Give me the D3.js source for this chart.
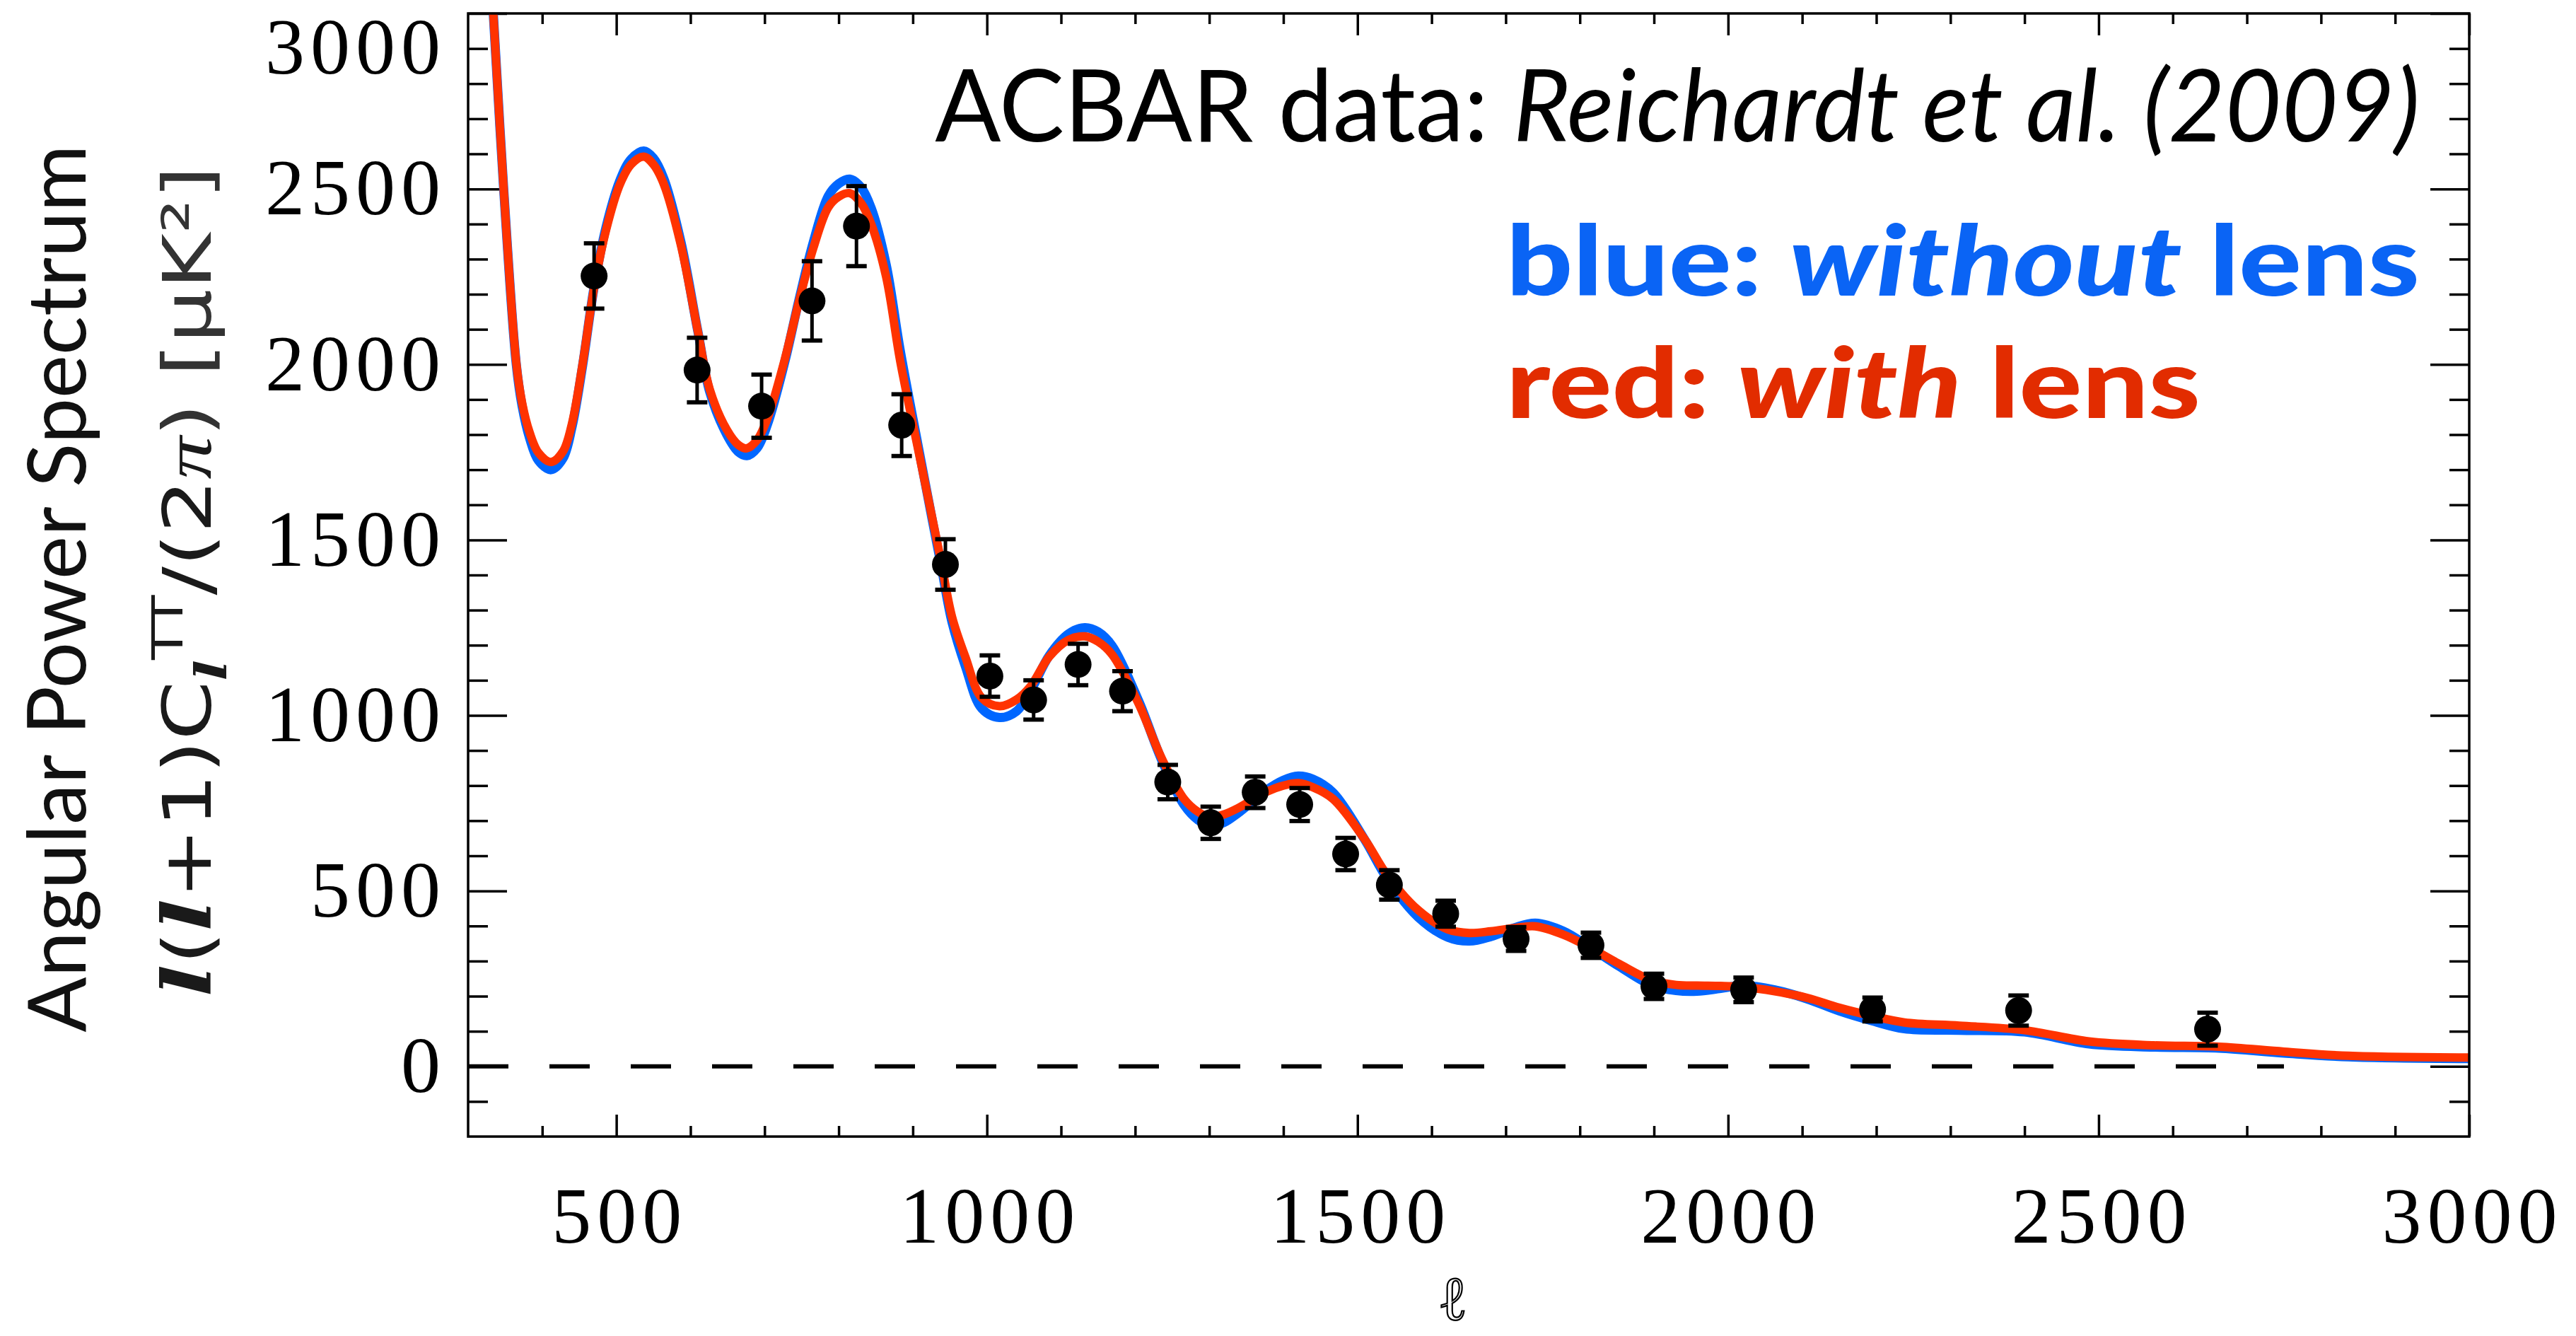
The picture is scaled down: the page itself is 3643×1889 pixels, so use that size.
<!DOCTYPE html>
<html>
<head>
<meta charset="utf-8">
<script src="https://cdn.jsdelivr.net/npm/d3@7"></script>
<style>
  body { margin: 0; background: #fff; }
  svg { display: block; }
</style>
</head>
<body>
<svg id="chart"></svg>
<script>
var width = 3643, height = 1889;

// model spectra, l(l+1)Cl/2pi in uK^2
var ellModel   = [320, 334, 348, 365, 373, 383, 395, 412, 428, 440, 454, 470, 486, 505, 520, 537, 550, 564, 587, 610,
                  626, 649, 665, 676, 690, 704, 727, 746, 766, 786, 800, 815, 830, 844, 864, 883, 907, 926, 938, 953,
                  971, 993, 1017, 1040, 1059, 1084, 1110, 1132, 1150, 1169, 1205, 1236, 1266, 1285, 1302, 1320, 1339, 1376, 1400, 1420,
                  1440, 1467, 1510, 1540, 1582, 1622, 1651, 1680, 1712, 1740, 1778, 1813, 1853, 1896, 1930, 1958, 1990, 2020, 2063, 2107,
                  2150, 2194, 2238, 2312, 2400, 2487, 2574, 2662, 2750, 2837, 3000];
var clLensed   = [3450, 3000, 2500, 2004, 1889, 1806, 1748, 1722, 1752, 1830, 1995, 2218, 2382, 2514, 2570, 2592, 2570, 2514, 2341, 2094,
                  1929, 1814, 1770, 1761, 1785, 1847, 2012, 2176, 2333, 2448, 2478, 2488, 2460, 2399, 2250, 2010, 1760, 1565, 1440, 1280,
                  1166, 1050, 1026, 1045, 1083, 1167, 1215, 1225, 1210, 1173, 1032, 877, 762, 725, 710, 718, 736, 781, 800, 807,
                  795, 762, 646, 545, 445, 390, 380, 385, 394, 399, 375, 339, 292, 246, 232, 230, 229, 226, 214, 195,
                  167, 144, 125, 116, 103, 71, 60, 56, 42, 30, 25];
var clUnlensed = [3450, 3000, 2500, 2000, 1880, 1790, 1726, 1700, 1732, 1820, 1990, 2220, 2390, 2525, 2585, 2608, 2588, 2530, 2350, 2094,
                  1922, 1800, 1750, 1740, 1762, 1830, 2005, 2180, 2350, 2480, 2515, 2528, 2505, 2445, 2285, 2040, 1770, 1560, 1430, 1265,
                  1140, 1020, 994, 1012, 1070, 1170, 1232, 1250, 1238, 1198, 1040, 872, 745, 702, 685, 695, 722, 785, 815, 827,
                  818, 780, 645, 535, 425, 368, 357, 370, 395, 408, 385, 340, 285, 232, 216, 214, 222, 230, 218, 192,
                  158, 130, 107, 103, 98, 64, 55, 52, 38, 27, 22];

// ACBAR band powers
var ellData = [470, 609, 696, 764, 824, 885, 944, 1004, 1063, 1123, 1183, 1244, 1302, 1362, 1422, 1484, 1543, 1619, 1714, 1815, 1900, 2021, 2195, 2392, 2647];
var clData  = [2252, 1984, 1881, 2181, 2394, 1827, 1430, 1112, 1044, 1145, 1069, 810, 694, 781, 746, 605, 517, 435, 363, 345, 228, 218, 162, 159, 106];
var clErr   = [93, 92, 90, 113, 114, 88, 72, 59, 56, 59, 57, 49, 46, 45, 47, 46, 42, 37, 34, 36, 36, 35, 34, 43, 47];

var xTicks = [500, 1000, 1500, 2000, 2500, 3000];
var yTicks = [0, 500, 1000, 1500, 2000, 2500, 3000];
var zeroLine = [300, 2750];

var plot = {left: 662, right: 3492, top: 19, bottom: 1607};

var x = d3.scaleLinear().domain([300, 3000]).range([plot.left, plot.right]);
var y = d3.scaleLinear().domain([-200, 3000]).range([plot.bottom, plot.top]);

var svg = d3.select('#chart')
            .attr('width', width)
            .attr('height', height);

svg.append('rect')
    .attr('width', width)
    .attr('height', height)
    .attr('fill', '#fff');

svg.append('clipPath')
    .attr('id', 'clip')
  .append('rect')
    .attr('x', x(300))
    .attr('y', y(3000))
    .attr('width', x(3000) - x(300))
    .attr('height', y(-200) - y(3000));

var xMinor = d3.range(400, 3000, 100).filter(d => d % 500 !== 0);
var yMinor = d3.range(-100, 3000, 100).filter(d => d % 500 !== 0);
var fmt = d3.format('d');

function tickStyle(g){
    g.select('.domain').remove();
    g.selectAll('.tick line').attr('stroke', '#000').attr('stroke-width', 3.5);
}

function labelStyle(g){
    g.selectAll('.tick text')
        .attr('font-family', '"Liberation Serif", serif')
        .attr('font-size', 112)
        .attr('letter-spacing', 8)
        .attr('fill', '#000');
}

// bottom + top
svg.append('g')
    .attr('transform', `translate(0,${plot.bottom})`)
    .call(d3.axisBottom(x).tickValues(xTicks).tickFormat(fmt).tickSizeInner(-31).tickSizeOuter(0).tickPadding(70))
    .call(tickStyle)
    .call(labelStyle)
    .selectAll('.tick text').attr('dx', 4);

svg.append('g')
    .attr('transform', `translate(0,${plot.bottom})`)
    .call(d3.axisBottom(x).tickValues(xMinor).tickSizeInner(-15).tickSizeOuter(0).tickFormat(''))
    .call(tickStyle);

svg.append('g')
    .attr('transform', `translate(0,${plot.top})`)
    .call(d3.axisTop(x).tickValues(xTicks).tickSizeInner(-31).tickSizeOuter(0).tickFormat(''))
    .call(tickStyle);

svg.append('g')
    .attr('transform', `translate(0,${plot.top})`)
    .call(d3.axisTop(x).tickValues(xMinor).tickSizeInner(-15).tickSizeOuter(0).tickFormat(''))
    .call(tickStyle);

// left + right
svg.append('g')
    .attr('transform', `translate(${plot.left},0)`)
    .call(d3.axisLeft(y).tickValues(yTicks).tickFormat(fmt).tickSizeInner(-55).tickSizeOuter(0).tickPadding(31))
    .call(tickStyle)
    .call(labelStyle)
    .selectAll('.tick text')
        .filter(d => d === 3000)
        .attr('y', 49);

svg.append('g')
    .attr('transform', `translate(${plot.left},0)`)
    .call(d3.axisLeft(y).tickValues(yMinor).tickSizeInner(-28).tickSizeOuter(0).tickFormat(''))
    .call(tickStyle);

svg.append('g')
    .attr('transform', `translate(${plot.right},0)`)
    .call(d3.axisRight(y).tickValues(yTicks).tickSizeInner(-55).tickSizeOuter(0).tickFormat(''))
    .call(tickStyle);

svg.append('g')
    .attr('transform', `translate(${plot.right},0)`)
    .call(d3.axisRight(y).tickValues(yMinor).tickSizeInner(-28).tickSizeOuter(0).tickFormat(''))
    .call(tickStyle);

// zero line
svg.append('line')
    .attr('x1', x(zeroLine[0]))
    .attr('x2', x(zeroLine[1]))
    .attr('y1', y(0))
    .attr('y2', y(0))
    .attr('stroke', '#000')
    .attr('stroke-width', 6)
    .attr('stroke-dasharray', '57 58');

// model curves
var unlensed = ellModel.map((l, i) => ({l: l, cl: clUnlensed[i]}));
var lensed = ellModel.map((l, i) => ({l: l, cl: clLensed[i]}));

var line = d3.line()
            .x(d => x(d.l))
            .y(d => y(d.cl))
            .curve(d3.curveCatmullRom.alpha(0.5));

var curves = svg.append('g').attr('clip-path', 'url(#clip)');

curves.append('path')
    .attr('d', line(unlensed))
    .attr('fill', 'none')
    .attr('stroke', '#0066ff')
    .attr('stroke-width', 13)
    .attr('stroke-linejoin', 'round');

curves.append('path')
    .attr('d', line(lensed))
    .attr('fill', 'none')
    .attr('stroke', '#ff3300')
    .attr('stroke-width', 12)
    .attr('stroke-linejoin', 'round');

// data points
var points = ellData.map((l, i) => ({l: l, cl: clData[i], err: clErr[i]}));

var pts = svg.append('g')
            .selectAll('.pt')
            .data(points)
            .enter()
            .append('g')
                .classed('pt', true);

pts.append('line')
    .attr('x1', d => x(d.l))
    .attr('x2', d => x(d.l))
    .attr('y1', d => y(d.cl + d.err))
    .attr('y2', d => y(d.cl - d.err))
    .attr('stroke', '#000')
    .attr('stroke-width', 5);

[1, -1].forEach(function(s){
    pts.append('line')
        .attr('x1', d => x(d.l) - 14.5)
        .attr('x2', d => x(d.l) + 14.5)
        .attr('y1', d => y(d.cl + s * d.err))
        .attr('y2', d => y(d.cl + s * d.err))
        .attr('stroke', '#000')
        .attr('stroke-width', 6);
});

pts.append('circle')
    .attr('cx', d => x(d.l))
    .attr('cy', d => y(d.cl))
    .attr('r', 19)
    .attr('fill', '#000');

// frame
svg.append('rect')
    .attr('x', x(300))
    .attr('y', y(3000))
    .attr('width', x(3000) - x(300))
    .attr('height', y(-200) - y(3000))
    .attr('fill', 'none')
    .attr('stroke', '#000')
    .attr('stroke-width', 3.5);

// texts
function fitText(t, tx, ty, target, rot){
    var w = t.node().getComputedTextLength();
    var sx = target / w;
    t.attr('transform', `translate(${tx},${ty}) rotate(${rot}) scale(${sx},1)`);
}

var title = svg.append('text')
                .attr('font-family', 'Lato, sans-serif')
                .attr('font-size', 142)
                .attr('text-anchor', 'end')
                .attr('fill', '#000')
                .style('white-space', 'pre');
title.append('tspan').text('ACBAR data: ');
title.append('tspan').attr('font-style', 'italic').text('Reichardt et al. (2009)');
fitText(title, 3422, 200, 2100, 0);

var leg1 = svg.append('text')
                .attr('font-family', 'Lato, sans-serif')
                .attr('font-weight', 900)
                .attr('font-size', 138)
                .attr('fill', '#0a64f5')
                .style('white-space', 'pre');
leg1.append('tspan').text('blue: ');
leg1.append('tspan').attr('font-style', 'italic').text('without');
leg1.append('tspan').text(' lens');
fitText(leg1, 2130, 418, 1292, 0);

var leg2 = svg.append('text')
                .attr('font-family', 'Lato, sans-serif')
                .attr('font-weight', 900)
                .attr('font-size', 138)
                .attr('fill', '#e22c00')
                .style('white-space', 'pre');
leg2.append('tspan').text('red: ');
leg2.append('tspan').attr('font-style', 'italic').text('with');
leg2.append('tspan').text(' lens');
fitText(leg2, 2130, 591, 982, 0);

// y title
var yt1 = svg.append('text')
            .attr('font-family', 'Lato, sans-serif')
            .attr('font-size', 115)
            .attr('text-anchor', 'middle')
            .attr('fill', '#111')
            .text('Angular Power Spectrum');
fitText(yt1, 121, 832, 1255, -90);

var yt2 = svg.append('text')
            .attr('font-family', '"DejaVu Sans", sans-serif')
            .attr('font-size', 95)
            .attr('text-anchor', 'middle')
            .attr('fill', '#1a1a1a')
            .style('white-space', 'pre');
var ell = t => yt2.append('tspan')
                .attr('font-family', '"DejaVu Serif", serif')
                .attr('font-style', 'italic')
                .attr('font-weight', 'bold')
                .text(t);
ell('l');
yt2.append('tspan').text('(');
ell('l');
yt2.append('tspan').text('+1)C');
ell('l').attr('font-size', 62).attr('dy', 22);
yt2.append('tspan').attr('font-size', 60).attr('dy', -62).text('TT');
yt2.append('tspan').attr('dy', 40).text('/(2');
yt2.append('tspan').attr('font-family', '"Liberation Serif", serif').attr('font-style', 'italic').text('π');
yt2.append('tspan').attr('fill', '#333').text(') [μK²]');
fitText(yt2, 298, 822, 1175, -90);

// x title
svg.append('text')
    .attr('x', 2054)
    .attr('y', 1866)
    .attr('text-anchor', 'middle')
    .attr('font-family', '"DejaVu Serif", serif')
    .attr('font-size', 88)
    .attr('fill', 'none')
    .attr('stroke', '#000')
    .attr('stroke-width', 2.2)
    .text('ℓ');
</script>
</body>
</html>
